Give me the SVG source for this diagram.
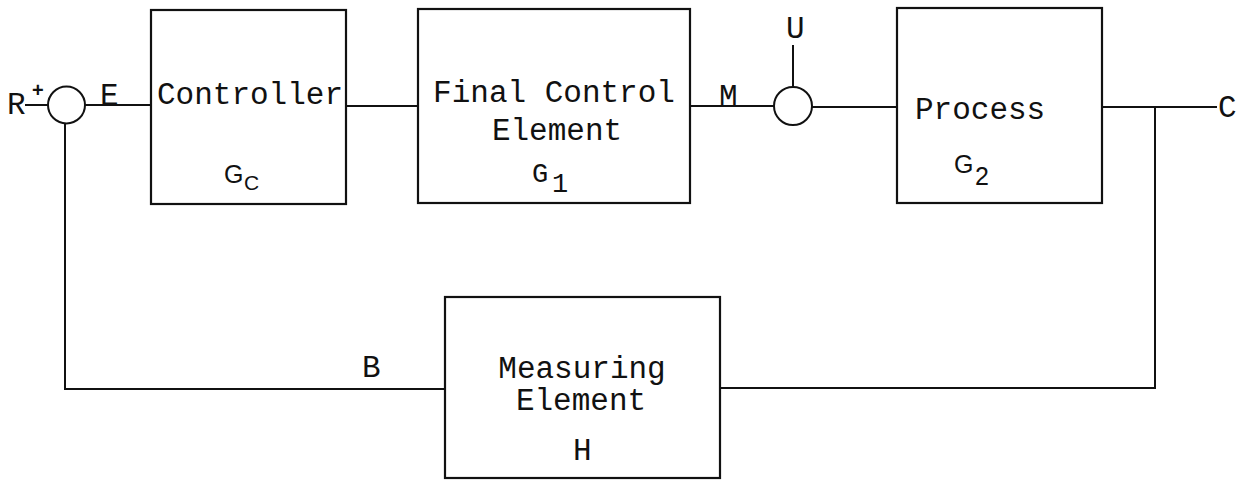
<svg xmlns="http://www.w3.org/2000/svg" width="1250" height="482" viewBox="0 0 1250 482">
<style>
.box{fill:none;stroke:#111;stroke-width:2.2}
.ln{fill:none;stroke:#111;stroke-width:2}
.t{font-family:"Liberation Mono","Courier New",monospace;font-size:31px;fill:#111}
.g{font-family:"Liberation Sans",Arial,sans-serif;font-size:25px;fill:#111}
.s{font-family:"Liberation Sans",Arial,sans-serif;font-size:21px;fill:#111}
.m{font-family:"Liberation Mono","Courier New",monospace;font-size:27px;fill:#111}
</style>
<rect width="1250" height="482" fill="#fff"/>
<g id="connectors">
<path class="ln" d="M25 105H48"/>
<path class="ln" d="M85 105H151"/>
<path class="ln" d="M346 106H418"/>
<path class="ln" d="M690 106H774"/>
<path class="ln" d="M793 45V87"/>
<path class="ln" d="M812 107H897"/>
<path class="ln" d="M1102 107H1217"/>
<path class="ln" d="M1155 107V388H720"/>
<path class="ln" d="M445 389H65V123"/>
</g>
<g id="sum1">
<circle class="ln" cx="66.5" cy="105" r="18.5"/>
<text class="t" x="7" y="114">R</text>
<text class="s" x="32" y="97" style="font-size:20px;font-weight:bold">+</text>
<text class="t" x="100" y="105">E</text>
</g>
<g id="controller">
<rect class="box" x="151" y="10" width="195" height="194"/>
<text class="t" x="157" y="104">Controller</text>
<text class="g" x="224" y="183">G</text><text class="s" x="244" y="190">C</text>
</g>
<g id="final">
<rect class="box" x="418" y="9" width="272" height="194"/>
<text class="t" x="554" y="102" text-anchor="middle">Final Control</text>
<text class="t" x="557" y="140" text-anchor="middle">Element</text>
<text class="m" x="532" y="182">G</text><text class="m" x="552" y="192">1</text>
<text class="t" x="719" y="106">M</text>
</g>
<g id="sum2">
<circle class="ln" cx="793" cy="106" r="19"/>
<text class="t" x="786" y="38">U</text>
</g>
<g id="process">
<rect class="box" x="897" y="8" width="205" height="195"/>
<text class="t" x="915" y="119">Process</text>
<text class="g" x="954" y="173">G</text><text class="g" x="975" y="185">2</text>
<text class="t" x="1218" y="117">C</text>
</g>
<g id="measuring">
<rect class="box" x="445" y="297" width="275" height="181"/>
<text class="t" x="582" y="378" text-anchor="middle">Measuring</text>
<text class="t" x="581" y="410" text-anchor="middle">Element</text>
<text class="t" x="573" y="460">H</text>
<text class="t" x="362" y="377">B</text>
</g>
</svg>
